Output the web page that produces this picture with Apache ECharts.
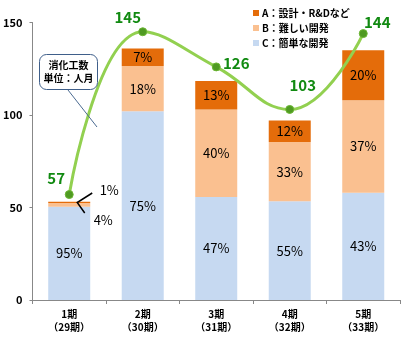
<!DOCTYPE html>
<html><head><meta charset="utf-8">
<script src="https://cdn.jsdelivr.net/npm/echarts@6/dist/echarts.min.js"></script>
<style>html,body{margin:0;padding:0;background:#fff}#c{width:420px;height:343px}</style>
</head><body><div id="c"></div>
<script>
const categories = ['1期\n（29期）', '2期\n（30期）', '3期\n（31期）', '4期\n（32期）', '5期\n（33期）'];
const designRD  = [0.6, 9.5, 15.4, 11.6, 27];   // A
const hardDev   = [2.1, 24.5, 47.3, 32, 50];    // B
const simpleDev = [50.4, 102, 55.7, 53.4, 58];  // C
const designPct = ['1%', '7%', '13%', '12%', '20%'];
const hardPct   = ['4%', '18%', '40%', '33%', '37%'];
const simplePct = ['95%', '75%', '47%', '55%', '43%'];
const totalEffort = [57, 145, 126, 103, 144];
const legendNames = ['A：設計・R&Dなど', 'B：難しい開発', 'C：簡単な開発'];

const FONT = '"Noto Sans CJK JP", "Liberation Sans", sans-serif';
const colA = '#E46C0A', colB = '#FAC090', colC = '#C6D9F1';
const lineLabelOffsets = [[-13, -16], [-15, -14], [20, -4], [13, -24], [14, -11]];

const pctLabel = (arr) => ({
  show: true, position: 'inside', color: '#000', fontSize: 13,
  fontFamily: FONT, formatter: (p) => arr[p.dataIndex]
});

const chart = echarts.init(document.getElementById('c'), null, {renderer: 'canvas'});
const option = {
  animation: false,
  textStyle: {fontFamily: FONT},
  grid: {left: 32, right: 20, top: 22.5, bottom: 43},
  legend: {
    orient: 'vertical', left: 248, top: 3, itemGap: 5,
    itemWidth: 6, itemHeight: 6, icon: 'rect',
    data: legendNames,
    textStyle: {fontSize: 10, fontWeight: 'bold', color: '#000', fontFamily: FONT, padding: [0, 0, 0, -2]}
  },
  xAxis: {
    type: 'category', data: categories,
    axisLine: {lineStyle: {color: '#888', width: 1}},
    axisTick: {show: true, length: 4, lineStyle: {color: '#888'}},
    axisLabel: {color: '#000', fontSize: 10, fontWeight: 'bold', lineHeight: 13, margin: 8, fontFamily: FONT}
  },
  yAxis: {
    type: 'value', min: 0, max: 150, interval: 50,
    splitLine: {show: false},
    axisLine: {show: true, lineStyle: {color: '#888', width: 1}},
    axisTick: {show: true, length: 3, lineStyle: {color: '#888'}},
    axisLabel: {color: '#000', fontSize: 11, fontWeight: 'bold', margin: 10, fontFamily: FONT}
  },
  series: [
    {
      name: legendNames[2], type: 'bar', stack: 'e', barWidth: 42,
      itemStyle: {color: colC}, label: pctLabel(simplePct),
      data: simpleDev
    },
    {
      name: legendNames[1], type: 'bar', stack: 'e',
      itemStyle: {color: colB}, label: pctLabel(hardPct),
      data: hardDev.map((v, i) => i === 0 ? {value: v, label: {offset: [34, 15]}} : v)
    },
    {
      name: legendNames[0], type: 'bar', stack: 'e',
      itemStyle: {color: colA}, label: pctLabel(designPct),
      data: designRD.map((v, i) => i === 0 ? {value: v, label: {offset: [40, -12]}} : v)
    },
    {
      name: '消化工数', type: 'line', smooth: 0.45, z: 5,
      symbol: 'circle', symbolSize: 8,
      lineStyle: {color: '#92D050', width: 3},
      itemStyle: {color: '#4F9A22', borderColor: '#6BB533', borderWidth: 1},
      label: {show: true, position: 'inside', color: '#118A11', fontSize: 15, fontWeight: 'bold', fontFamily: FONT},
      data: totalEffort.map((v, i) => ({value: v, label: {offset: lineLabelOffsets[i]}}))
    }
  ]
};
chart.setOption(option);

// annotation graphics
const bar1Top = simpleDev[0] + hardDev[0] + designRD[0];
const vtx = chart.convertToPixel({seriesIndex: 0}, [0, bar1Top - 0.4]);
const vx = vtx[0] + 8, vy = vtx[1];
chart.setOption({
  graphic: [
    {type: 'polyline', z: 10, shape: {points: [[vx + 15, vy - 9.5], [vx, vy], [vx + 7.5, vy + 10.5]]},
     style: {stroke: '#000', lineWidth: 1.5, fill: null}},
    {type: 'line', z: 10, shape: {x1: 68, y1: 90, x2: 97, y2: 127}, style: {stroke: '#4A6A90', lineWidth: 1}},
    {type: 'rect', z: 11, shape: {x: 39.5, y: 54.5, width: 58, height: 35, r: 7},
     style: {fill: '#fff', stroke: '#3F5F8A', lineWidth: 1}},
    {type: 'text', z: 12, x: 68.5, y: 72, style: {
      text: '消化工数\n単位：人月', fill: '#000', font: 'bold 10px ' + FONT,
      align: 'center', verticalAlign: 'middle', lineHeight: 13}}
  ]
});
</script></body></html>
